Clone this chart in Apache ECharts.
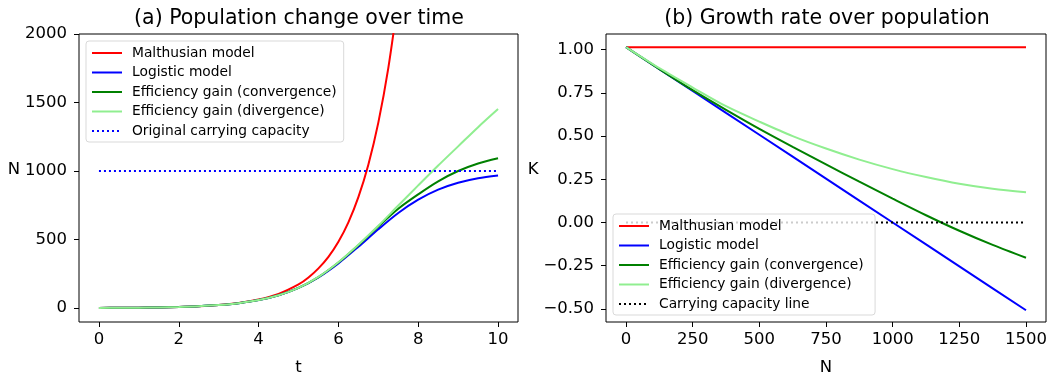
<!DOCTYPE html>
<html>
<head>
<meta charset="utf-8">
<script src="https://cdn.jsdelivr.net/npm/echarts@6/dist/echarts.min.js"></script>
<style>
  html, body { margin: 0; padding: 0; background: #fff; }
  #chart { width: 1049px; height: 378px; }
</style>
</head>
<body>
<div id="chart"></div>
<script>
// (a) population over time
const tValues = [0, 0.5, 1, 1.5, 2, 2.5, 3, 3.5, 4, 4.5, 5, 5.5, 6, 6.5, 7, 7.5, 8, 8.5, 9, 9.5, 10];
const malthusT = [0, 0.5, 1, 1.5, 2, 2.5, 3, 3.5, 4, 4.5, 5, 5.25, 5.5, 5.75, 6, 6.25, 6.5, 6.75, 7, 7.25, 7.5];
const malthusN = [1, 1.7, 2.8, 4.7, 7.9, 13, 22, 37, 62, 103, 172, 223, 289, 373, 483, 625, 809, 1046, 1353, 1751, 2265];
const logisticN = [1, 1.7, 2.8, 4.7, 7.8, 13, 21.5, 35.5, 58, 93.5, 147, 224, 326, 447, 575, 694, 791, 864, 914, 947, 967];
const convergenceN = [1, 1.7, 2.8, 4.7, 7.8, 13, 21.5, 35.5, 58, 93.5, 147, 226, 332, 458, 595, 725, 830, 925, 1000, 1055, 1093];
const divergenceN = [1, 1.7, 2.8, 4.7, 7.8, 13, 21.5, 35.5, 58, 93.5, 147, 227, 334, 462, 600, 748, 895, 1040, 1180, 1320, 1452];
const capacityT = [0, 10];
const capacityN = [1000, 1000];

// (b) growth rate over population
const popN = [0, 125, 250, 375, 500, 625, 750, 875, 1000, 1125, 1250, 1375, 1500];
const malthusK = [1.015, 1.015, 1.015, 1.015, 1.015, 1.015, 1.015, 1.015, 1.015, 1.015, 1.015, 1.015, 1.015];
const logisticK = [1.015, 0.888, 0.761, 0.634, 0.508, 0.381, 0.254, 0.127, 0, -0.127, -0.254, -0.381, -0.508];
const convergenceK = [1.015, 0.888, 0.766, 0.652, 0.542, 0.438, 0.337, 0.236, 0.138, 0.042, -0.048, -0.13, -0.204];
const divergenceK = [1.015, 0.893, 0.781, 0.673, 0.584, 0.5, 0.428, 0.364, 0.309, 0.263, 0.224, 0.195, 0.175];
const capLineN = [0, 1500];
const capLineK = [0, 0];

const tTicks = [0, 2, 4, 6, 8, 10];
const nTicks = [0, 500, 1000, 1500, 2000];
const popTicks = [0, 250, 500, 750, 1000, 1250, 1500];
const kTicks = [-0.5, -0.25, 0, 0.25, 0.5, 0.75, 1.0];

const zip = (xs, ys) => xs.map((x, i) => [x, ys[i]]);

const FONT = 'DejaVu Sans';
const dotted = [2, 3];

function axisBase(ticks, fmt, margin) {
    return {
        type: 'value',
        axisLine: { show: false, onZero: false },
        axisTick: { show: true, length: 5, customValues: ticks, lineStyle: { color: '#000', width: 1 } },
        axisLabel: {
            customValues: ticks, color: '#000', fontSize: 16.5, fontFamily: FONT, margin: margin,
            formatter: fmt || (v => String(v))
        },
        splitLine: { show: false },
        nameTextStyle: { color: '#000', fontSize: 16.5, fontFamily: FONT }
    };
}

function lineSeries(name, data, color, xi, extra) {
    return Object.assign({
        name: name,
        type: 'line',
        xAxisIndex: xi,
        yAxisIndex: xi,
        data: data,
        showSymbol: false,
        symbol: 'none',
        smooth: 0.3,
        clip: true,
        lineStyle: { color: color, width: 2 },
        itemStyle: { color: color },
        animation: false
    }, extra || {});
}

const legendCommon = {
    orient: 'vertical',
    itemWidth: 30,
    itemHeight: 14,
    itemGap: 5.5,
    backgroundColor: 'rgba(255,255,255,0.8)',
    borderColor: '#d9d9d9',
    borderWidth: 1,
    borderRadius: 3,
    padding: [5, 7, 4, 5],
    selectedMode: false,
    itemStyle: { opacity: 0 },
    textStyle: { fontSize: 13.8, fontFamily: FONT, color: '#000', padding: [0, 0, 0, 5], lineHeight: 14 }
};

const chart = echarts.init(document.getElementById('chart'), null, { renderer: 'canvas' });

const option = {
    animation: false,
    backgroundColor: '#fff',
    title: [
        { text: '(a) Population change over time', left: 294, top: 3, textAlign: 'center',
          textStyle: { fontSize: 20.5, fontWeight: 'normal', fontFamily: FONT, color: '#000' } },
        { text: '(b) Growth rate over population', left: 822, top: 3, textAlign: 'center',
          textStyle: { fontSize: 20.5, fontWeight: 'normal', fontFamily: FONT, color: '#000' } }
    ],
    grid: [
        { left: 79, top: 34, width: 439, height: 288, outerBoundsMode: 'none', containLabel: false,
          show: true, borderColor: '#000', borderWidth: 1, backgroundColor: 'transparent' },
        { left: 606, top: 34, width: 440, height: 288, outerBoundsMode: 'none', containLabel: false,
          show: true, borderColor: '#000', borderWidth: 1, backgroundColor: 'transparent' }
    ],
    xAxis: [
        Object.assign(axisBase(tTicks, null, 9), { gridIndex: 0, min: -0.5, max: 10.5, name: 't', nameLocation: 'middle', nameGap: 37 }),
        Object.assign(axisBase(popTicks, null, 9), { gridIndex: 1, min: -75, max: 1575, name: 'N', nameLocation: 'middle', nameGap: 37 })
    ],
    yAxis: [
        Object.assign(axisBase(nTicks, null, 12), {
            gridIndex: 0, min: -102, max: 2000, name: 'N', nameLocation: 'middle', nameRotate: 0, nameGap: 54
        }),
        Object.assign(axisBase(kTicks, v => v.toFixed(2).replace('-', '\u2212'), 12), {
            gridIndex: 1, min: -0.576, max: 1.091, name: 'K', nameLocation: 'middle', nameRotate: 0, nameGap: 65
        })
    ],
    legend: [
        Object.assign({}, legendCommon, {
            left: 86, top: 41,
            data: ['Malthusian model', 'Logistic model', 'Efficiency gain (convergence)', 'Efficiency gain (divergence)', 'Original carrying capacity']
        }),
        Object.assign({}, legendCommon, {
            left: 613, top: 214,
            data: ['Malthusian model ', 'Logistic model ', 'Efficiency gain (convergence) ', 'Efficiency gain (divergence) ', 'Carrying capacity line']
        })
    ],
    series: [
        lineSeries('Malthusian model', zip(malthusT, malthusN), '#ff0000', 0),
        lineSeries('Logistic model', zip(tValues, logisticN), '#0000ff', 0),
        lineSeries('Efficiency gain (convergence)', zip(tValues, convergenceN), '#008000', 0),
        lineSeries('Efficiency gain (divergence)', zip(tValues, divergenceN), '#90ee90', 0),
        lineSeries('Original carrying capacity', zip(capacityT, capacityN), '#0000ff', 0,
            { smooth: false, lineStyle: { color: '#0000ff', width: 2, type: dotted } }),

        lineSeries('Malthusian model ', zip(popN, malthusK), '#ff0000', 1, { smooth: false }),
        lineSeries('Logistic model ', zip(popN, logisticK), '#0000ff', 1, { smooth: false }),
        lineSeries('Efficiency gain (convergence) ', zip(popN, convergenceK), '#008000', 1),
        lineSeries('Efficiency gain (divergence) ', zip(popN, divergenceK), '#90ee90', 1),
        lineSeries('Carrying capacity line', zip(capLineN, capLineK), '#000000', 1,
            { smooth: false, lineStyle: { color: '#000000', width: 2, type: dotted } })
    ]
};

chart.setOption(option);

// the horizontal axis names sit with their bottom at the plot middle
chart.setOption({
    yAxis: [
        { nameTextStyle: { verticalAlign: 'bottom' } },
        { nameTextStyle: { verticalAlign: 'bottom' } }
    ]
});
</script>
</body>
</html>
